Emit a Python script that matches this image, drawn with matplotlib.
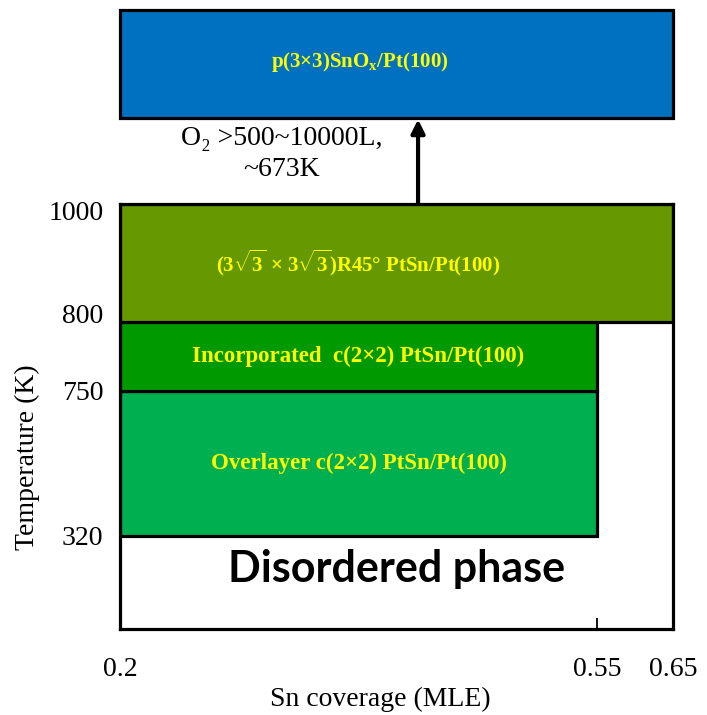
import numpy as np
import matplotlib
matplotlib.use("Agg")
from matplotlib import pyplot as plt
from matplotlib.patches import Rectangle
from matplotlib.transforms import ScaledTranslation

# ticks shown on the axes
x_ticks = [0.2, 0.55, 0.65]
y_ticks = [320, 750, 800, 1000]

# phase boxes: (label, x0, x1, T0, T1)
phase_labels = [
    "Overlayer c(2×2) PtSn/Pt(100)",
    "Incorporated  c(2×2) PtSn/Pt(100)",
    r"(3$\sqrt{3}$ × 3$\sqrt{3}$)R45° PtSn/Pt(100)",
]
phase_x0 = [0.2, 0.2, 0.2]
phase_x1 = [0.55, 0.55, 0.65]
phase_t0 = [320, 750, 800]
phase_t1 = [750, 800, 1000]
phase_colors = ["#00B050", "#009900", "#669900"]
phase_fontsizes = [16.5, 16.5, 15]

oxide_label = r"p(3×3)SnO$_\mathregular{x}$/Pt(100)"
oxide_note = "O₂ >500~10000L,\n~673K"

# piecewise axis layout (the original drawing is not to scale)
X_ANCHORS = [0.2, 0.55, 0.65]
X_FRAC = [0.0, 0.8626, 1.0]
Y_ANCHORS = [250, 320, 750, 800, 1000]
Y_FRAC = [0.0, 0.219, 0.560, 0.722, 1.0]
# small vertical nudges of the y tick labels, in points
Y_LABEL_SHIFT = [0, 0, 6, -5]

plt.rcParams["mathtext.fontset"] = "custom"
plt.rcParams["mathtext.rm"] = "Liberation Serif:bold"
plt.rcParams["mathtext.bf"] = "Liberation Serif:bold"

fig = plt.figure(figsize=(7.07, 7.15), dpi=100)
ax = fig.add_axes([0.1697, 0.1203, 0.7822, 0.5944])

ax.set_xscale(
    "function",
    functions=(lambda v: np.interp(v, X_ANCHORS, X_FRAC),
               lambda v: np.interp(v, X_FRAC, X_ANCHORS)),
)
ax.set_yscale(
    "function",
    functions=(lambda v: np.interp(v, Y_ANCHORS, Y_FRAC),
               lambda v: np.interp(v, Y_FRAC, Y_ANCHORS)),
)
ax.set_xlim(0.2, 0.65)
ax.set_ylim(250, 1000)

lw = 2.3
for label, x0, x1, t0, t1, c, fs in zip(
    phase_labels, phase_x0, phase_x1, phase_t0, phase_t1, phase_colors,
    phase_fontsizes
):
    ax.add_patch(Rectangle((x0, t0), x1 - x0, t1 - t0, facecolor=c,
                           edgecolor="black", linewidth=lw, zorder=2))
    ymid = np.interp((np.interp(t0, Y_ANCHORS, Y_FRAC) + np.interp(t1, Y_ANCHORS, Y_FRAC)) / 2,
                     Y_FRAC, Y_ANCHORS)
    ax.text(0.375, ymid, label, ha="center", va="center", color="#FFFF00",
            fontsize=fs, fontweight="bold", family="Liberation Serif", zorder=3)

# oxide phase box above the plot
ax.add_patch(Rectangle((0.0, 1.202), 1.0, 0.254, transform=ax.transAxes,
                       facecolor="#0070C0", edgecolor="black", linewidth=lw,
                       clip_on=False, zorder=2))
ax.text(0.434, 1.334, oxide_label, transform=ax.transAxes, ha="center",
        va="center", color="#FFFF00", fontsize=15, fontweight="bold",
        family="Liberation Serif")

ax.annotate("", xy=(0.539, 1.199), xytext=(0.539, 1.0),
            xycoords="axes fraction", textcoords="axes fraction",
            arrowprops=dict(arrowstyle="-|>", lw=3, color="black",
                            mutation_scale=20, shrinkA=0, shrinkB=0),
            annotation_clip=False)
ax.text(0.293, 1.117, oxide_note, transform=ax.transAxes, ha="center",
        va="center", fontsize=20, family="Liberation Serif", linespacing=1.3)

ax.text(0.5, 0.14, "Disordered phase", transform=ax.transAxes, ha="center",
        va="center", fontsize=31, fontweight="bold", family="Lato")

ax.set_xticks(x_ticks)
ax.set_xticklabels([f"{v:g}" for v in x_ticks])
ax.set_yticks(y_ticks)
ax.set_yticklabels([str(v) for v in y_ticks])
ax.minorticks_off()
ax.tick_params(axis="x", direction="in", length=8, width=1.3, pad=20,
               labelsize=20)
ax.tick_params(axis="y", direction="in", length=0, pad=12, labelsize=20)
for lab in ax.get_xticklabels() + ax.get_yticklabels():
    lab.set_family("Liberation Serif")
for lab, dy in zip(ax.get_yticklabels(), Y_LABEL_SHIFT):
    lab.set_transform(lab.get_transform()
                      + ScaledTranslation(0, dy / 72, fig.dpi_scale_trans))

for s in ax.spines.values():
    s.set_linewidth(lw)
    s.set_zorder(4)

ax.set_xlabel("Sn coverage (MLE)", fontsize=20, family="Liberation Serif")
ax.set_ylabel("Temperature (K)", fontsize=20, family="Liberation Serif")
ax.xaxis.set_label_coords(0.47, -0.135)
ax.yaxis.set_label_coords(-0.145, 0.405)

fig.savefig("out.png", dpi=100)
